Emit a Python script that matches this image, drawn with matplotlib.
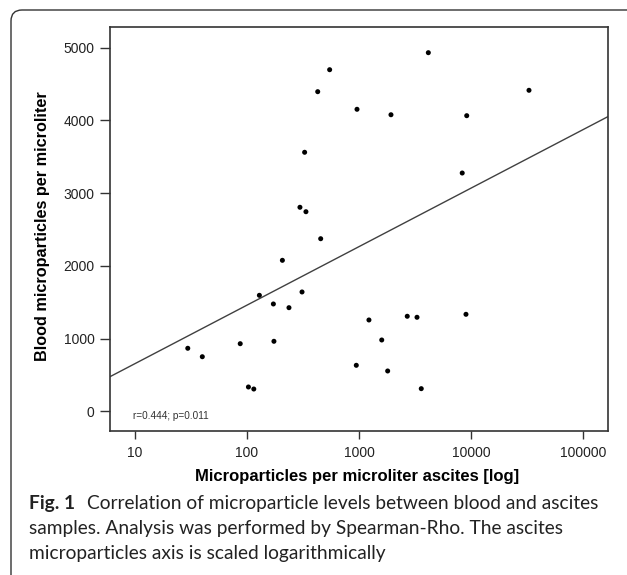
import matplotlib
matplotlib.use('Agg')
import matplotlib.pyplot as plt
import numpy as np
from matplotlib.path import Path
from matplotlib.patches import PathPatch
from matplotlib.transforms import IdentityTransform
from matplotlib.ticker import NullLocator

# ---------------- data ----------------
ascites = [547, 428, 960, 327, 297, 336, 4160, 1930, 9160, 32950, 8350,
           455, 207, 129, 172, 237, 310, 29.6, 39.9, 87, 174, 103, 115,
           946, 1227, 2697, 3296, 9020, 1596, 1803, 3597]
blood = [4695, 4393, 4151, 3560, 2804, 2743, 4929, 4076, 4063, 4412, 3275,
         2372, 2075, 1594, 1475, 1424, 1640, 866, 750, 929, 962, 334, 306,
         632, 1255, 1306, 1292, 1333, 980, 554, 311]
fit_intercept = -149
fit_slope = 804
x_ticks = [10, 100, 1000, 10000, 100000]
x_tick_labels = ["10", "100", "1000", "10000", "100000"]
y_ticks = [0, 1000, 2000, 3000, 4000, 5000]
y_tick_labels = ["0", "1000", "2000", "3000", "4000", "5000"]
stat_text = "r=0.444; p=0.011"
x_label = "Microparticles per microliter ascites [log]"
y_label = "Blood microparticles per microliter"
caption_bold = "Fig. 1"
caption_lines = ["Correlation of microparticle levels between blood and ascites",
                 "samples. Analysis was performed by Spearman-Rho. The ascites",
                 "microparticles axis is scaled logarithmically"]

W, H = 627, 575
plt.rcParams['font.family'] = ['Liberation Sans', 'DejaVu Sans']

fig = plt.figure(figsize=(W / 100, H / 100), dpi=100)
fig.patch.set_facecolor('white')

def fx(px):
    return px / W

def fy(py):
    return 1 - py / H

ax_l, ax_r, ax_t, ax_b = 110, 608.3, 27, 431
ax = fig.add_axes([fx(ax_l), fy(ax_b), (ax_r - ax_l) / W, (ax_b - ax_t) / H])
ax.set_xscale('log')
xmin, xmax = 10 ** 0.7768, 10 ** 5.226
ax.set_xlim(xmin, xmax)
ax.set_ylim(-271, 5282)

ax.scatter(ascites, blood, s=13, color='black', edgecolors='none', zorder=3)

xs = np.logspace(np.log10(xmin), np.log10(xmax), 200)
ax.plot(xs, fit_intercept + fit_slope * np.log10(xs), color='#404040', lw=1.0, zorder=2)

ax.set_xticks(x_ticks)
ax.set_xticklabels(x_tick_labels)
ax.xaxis.set_minor_locator(NullLocator())
ax.set_yticks(y_ticks)
ax.set_yticklabels(y_tick_labels)

for s in ax.spines.values():
    s.set_linewidth(1.2)
    s.set_color('#333333')
ax.tick_params(axis='y', length=7.2, width=1.0, pad=4.0, labelsize=10,
               color='#333333', labelcolor='#222222')
ax.tick_params(axis='x', length=5.5, width=1.0, pad=5.0, labelsize=10,
               color='#333333', labelcolor='#222222')

fig.text(fx(132.7), fy(416), stat_text, fontsize=7.2, color='#333333',
         ha='left', va='center')

renderer = fig.canvas.get_renderer()

def fit_text(t, target_w):
    bb = t.get_window_extent(renderer=renderer)
    w = bb.height if t.get_rotation() == 90 else bb.width
    t.set_fontsize(t.get_fontsize() * target_w / w)

xl = fig.text(fx(357.4), fy(480.7), x_label, fontsize=11.5, fontweight='bold',
              ha='center', va='baseline', color='black')
fit_text(xl, 326.7)
yl = fig.text(fx(46.7), fy(226), y_label, fontsize=11, fontweight='bold',
              ha='center', va='baseline', rotation=90, rotation_mode='anchor',
              color='black')
fit_text(yl, 271.7)

# caption
cap_font = ['Lato', 'DejaVu Sans']
cap_left = 29.3
c2 = fig.text(fx(cap_left), fy(534.3), caption_lines[1], fontsize=13, family=cap_font,
              ha='left', va='baseline', color='#222222')
fit_text(c2, 535)
cfs = c2.get_fontsize()
cb = fig.text(fx(cap_left), fy(509.3), caption_bold, fontsize=cfs, family=cap_font,
              fontweight='bold', ha='left', va='baseline', color='#222222')
bw = cb.get_window_extent(renderer=renderer).width
c1 = fig.text(fx(cap_left + bw + 12), fy(509.3), caption_lines[0], fontsize=cfs,
              family=cap_font, ha='left', va='baseline', color='#222222')
c3 = fig.text(fx(cap_left), fy(559.3), caption_lines[2], fontsize=cfs, family=cap_font,
              ha='left', va='baseline', color='#222222')

# rounded frame (top-left corner only)
r = 11
top = H - 10
left = 11
verts = [(left, -5), (left, top - r), (left, top), (left + r, top), (W + 5, top)]
codes = [Path.MOVETO, Path.LINETO, Path.CURVE3, Path.CURVE3, Path.LINETO]
frame = PathPatch(Path(verts, codes), transform=IdentityTransform(), fill=False,
                  lw=1.0, edgecolor='#333333')
fig.add_artist(frame)

fig.savefig('out.png', dpi=100)
